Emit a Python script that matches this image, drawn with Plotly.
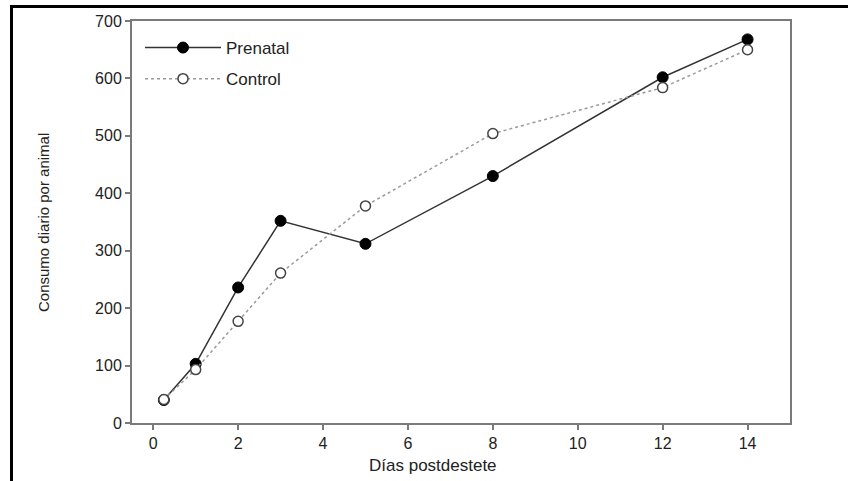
import plotly.graph_objects as go

# ---- data ----
dias = [0.25, 1, 2, 3, 5, 8, 12, 14]
prenatal = [40, 103, 236, 352, 312, 430, 602, 668]
control = [41, 93, 177, 261, 378, 504, 584, 650]
x_ticks = [0, 2, 4, 6, 8, 10, 12, 14]
y_ticks = [0, 100, 200, 300, 400, 500, 600, 700]

W, H = 848, 481
L, R, T, B = 132, 790, 21, 423  # plot area in pixels

FONT = "Liberation Sans, Arial, sans-serif"
AX = "#7a7a7a"

def px_x(p):
    return (p - L) / (R - L)

def px_y(p):
    return (B - p) / (B - T)

fig = go.Figure()
fig.add_trace(go.Scatter(
    x=dias, y=prenatal, name="Prenatal", mode="lines+markers",
    legendgroup="a",
    line=dict(color="#333333", width=1.5),
    marker=dict(symbol="circle", size=11, color="black",
                line=dict(color="black", width=1)),
))
fig.add_trace(go.Scatter(
    x=dias, y=control, name="Control", mode="lines+markers",
    legendgroup="b",
    line=dict(color="#9a9a9a", width=1.5, dash="dot"),
    marker=dict(symbol="circle", size=10, color="white",
                line=dict(color="#444444", width=1.5)),
))

fig.update_layout(
    width=W, height=H,
    margin=dict(l=L, r=W - R, t=T, b=H - B, pad=0),
    paper_bgcolor="white", plot_bgcolor="white",
    font=dict(family=FONT, size=16, color="#222222"),
    showlegend=True,
    legend=dict(x=px_x(140), y=px_y(30), xanchor="left", yanchor="top",
                bgcolor="rgba(0,0,0,0)", borderwidth=0,
                itemwidth=76, tracegroupgap=6,
                font=dict(family=FONT, size=17, color="#222222")),
    xaxis=dict(range=[-0.5, 15], tickvals=x_ticks, ticktext=[str(v) for v in x_ticks],
               showgrid=False, zeroline=False, showline=True, mirror=True,
               linecolor=AX, linewidth=2, ticks="outside", ticklen=5,
               tickcolor=AX, tickwidth=2, tickfont=dict(size=16)),
    yaxis=dict(range=[0, 700], tickvals=y_ticks, ticktext=[str(v) for v in y_ticks],
               showgrid=False, zeroline=False, showline=True, mirror=True,
               linecolor=AX, linewidth=2, ticks="outside", ticklen=5,
               tickcolor=AX, tickwidth=2, tickfont=dict(size=16)),
    annotations=[
        dict(text="Días postdestete", xref="paper", yref="paper",
             x=px_x(433), y=px_y(466), xanchor="center", yanchor="middle",
             showarrow=False, font=dict(family=FONT, size=17, color="#222222")),
        dict(text="Consumo diario por animal", xref="paper", yref="paper",
             x=px_x(43), y=px_y(223), xanchor="center", yanchor="middle",
             textangle=-90, showarrow=False,
             font=dict(family=FONT, size=15, color="#222222")),
    ],
    shapes=[
        dict(type="path", xref="paper", yref="paper",
             path=f"M {px_x(11.5)},{px_y(490)} L {px_x(11.5)},{px_y(6.5)} L {px_x(850)},{px_y(6.5)}",
             line=dict(color="black", width=3)),
    ],
)

fig.write_html("out.html",
               config={"displayModeBar": False},
               post_script="document.body.style.margin='0';document.body.style.padding='0';")
